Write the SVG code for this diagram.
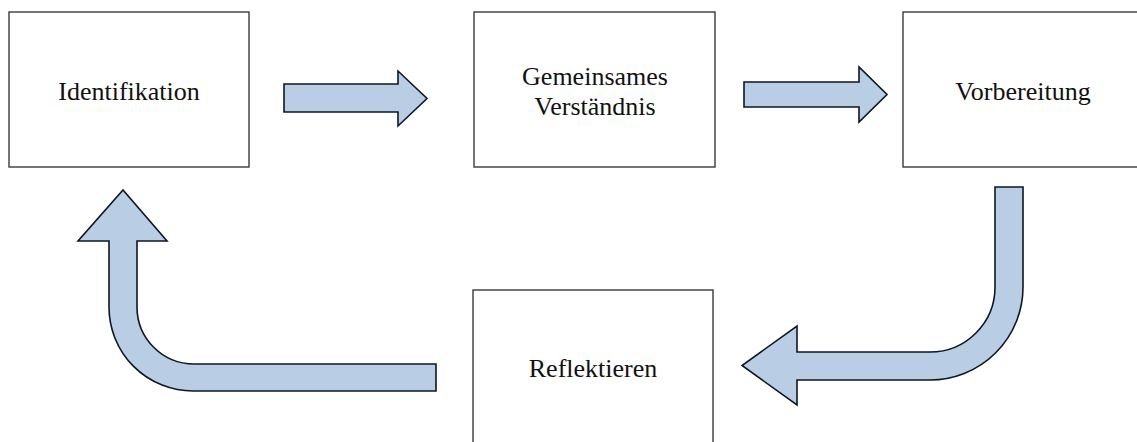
<svg xmlns="http://www.w3.org/2000/svg" width="1137" height="442" viewBox="0 0 1137 442">
  <style>
    .box { fill: #ffffff; stroke: #3a3a3a; stroke-width: 1.4; }
    .label { font-family: "Liberation Serif", "Times New Roman", serif; font-size: 26px; fill: #111111; text-anchor: middle; }
    .arrow { fill: #b9cde5; stroke: #0e1622; stroke-width: 1.6; stroke-linejoin: miter; }
  </style>
  <rect width="1137" height="442" fill="#ffffff"/>

  <g id="node-identifikation">
    <rect class="box" x="9" y="12" width="240" height="155"/>
    <text class="label" x="129" y="100">Identifikation</text>
  </g>

  <g id="node-verstaendnis">
    <rect class="box" x="474" y="12" width="241" height="155"/>
    <text class="label" x="595" y="85">Gemeinsames</text>
    <text class="label" x="595" y="115">Verständnis</text>
  </g>

  <g id="node-vorbereitung">
    <rect class="box" x="903" y="12" width="250" height="155"/>
    <text class="label" x="1023" y="100">Vorbereitung</text>
  </g>

  <g id="node-reflektieren">
    <rect class="box" x="473" y="290" width="240" height="170"/>
    <text class="label" x="593" y="377">Reflektieren</text>
  </g>

  <g id="connectors">
    <!-- Identifikation to Gemeinsames Verständnis -->
    <path class="arrow" d="M284,84 H398 V71 L427,98.5 L398,126 V112 H284 Z"/>
    <!-- Gemeinsames Verständnis to Vorbereitung -->
    <path class="arrow" d="M744,82 H859 V67 L887,94.5 L859,122 V107 H744 Z"/>
    <!-- Vorbereitung down and back to Reflektieren -->
    <path class="arrow" d="M995,187 H1023 V287 A93,93 0 0 1 930,380 H797 V405 L742,365.5 L797,326 V352 H930 A65,65 0 0 0 995,287 Z"/>
    <!-- Reflektieren back up to Identifikation -->
    <path class="arrow" d="M436,364 V391 H193 A84,84 0 0 1 109,307 V241 H78 L123,190 L167,241 H137 V307 A57,57 0 0 0 194,364 Z"/>
  </g>
</svg>
